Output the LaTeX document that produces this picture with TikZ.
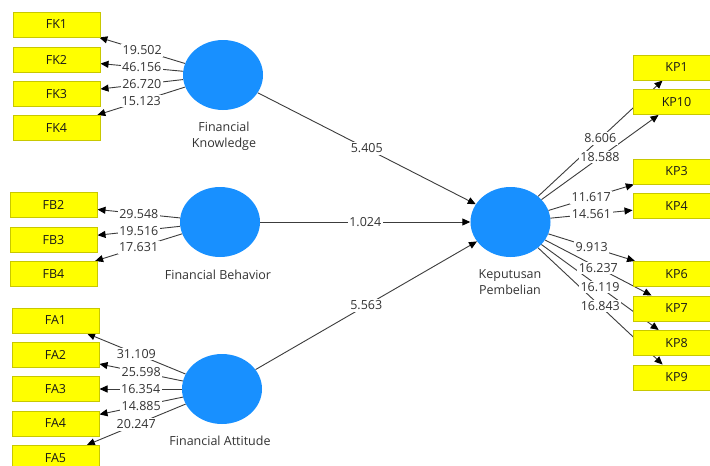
\documentclass[tikz,border=0pt]{standalone}
\usepackage{fontspec}
\setmainfont{Open Sans}
\usetikzlibrary{shapes.geometric,arrows.meta}
\pgfdeclarelayer{background}
\pgfsetlayers{background,main}
\definecolor{boxfill}{RGB}{255,255,0}
\definecolor{boxline}{RGB}{200,200,0}
\definecolor{latfill}{RGB}{24,144,255}
\definecolor{lncol}{RGB}{60,60,60}
\tikzset{
  ind/.style={draw=boxline, fill=boxfill, line width=1pt, minimum width=87pt, minimum height=25pt, inner sep=0pt, font=\fontsize{12.5}{14}\selectfont, text=black!90},
  lat/.style={ellipse, fill=latfill, minimum width=80pt, minimum height=70pt, inner sep=0pt},
  latlbl/.style={align=center, font=\fontsize{12.5}{16}\selectfont, text=black!80},
  conn/.style={draw=lncol, line width=0.9pt, -{Triangle[length=8pt,width=7pt,black]}},
  lbl/.style={fill=white, inner sep=1.5pt, font=\fontsize{12.5}{14}\selectfont, text=black!80}
}
\begin{document}
\begin{tikzpicture}[x=1pt,y=-1pt]
\useasboundingbox (0,0) rectangle (710,466);
\clip (0,0) rectangle (710,466);
% latent variables
\node[lat] (fk) at (223,75) {};
\node[lat] (fb) at (220,222) {};
\node[lat] (fa) at (222,389) {};
\node[lat] (kp) at (510.5,222) {};
\node[latlbl] (fkl) at (224,136) {Financial\\Knowledge};
\node[latlbl] (fbl) at (218,275) {Financial Behavior};
\node[latlbl] (fal) at (220,441) {Financial Attitude};
\node[latlbl] (kpl) at (510,282) {Keputusan\\Pembelian};
% indicators
\node[ind] (FK1) at (56.5,24.5) {FK1};
\node[ind] (FK2) at (56.5,59.5) {FK2};
\node[ind] (FK3) at (56.5,94) {FK3};
\node[ind] (FK4) at (56.5,128) {FK4};
\node[ind] (FB2) at (53.5,205) {FB2};
\node[ind] (FB3) at (53.5,240) {FB3};
\node[ind] (FB4) at (53.5,274) {FB4};
\node[ind] (FA1) at (55.5,320.5) {FA1};
\node[ind] (FA2) at (55.5,355) {FA2};
\node[ind] (FA3) at (55.5,389) {FA3};
\node[ind] (FA4) at (55.5,423.5) {FA4};
\node[ind] (FA5) at (55.5,458) {FA5};
\node[ind] (KP1) at (676.5,67.5) {KP1};
\node[ind] (KP10) at (676.5,102) {KP10};
\node[ind] (KP3) at (676.5,171.5) {KP3};
\node[ind] (KP4) at (676.5,206) {KP4};
\node[ind] (KP6) at (676.5,274) {KP6};
\node[ind] (KP7) at (676.5,308.5) {KP7};
\node[ind] (KP8) at (676.5,343) {KP8};
\node[ind] (KP9) at (676.5,377.5) {KP9};
\begin{pgfonlayer}{background}
\fill[white] (0,0) rectangle (710,466);
% connectors
\draw[conn] (fk) -- coordinate[pos=.5] (c1) (FK1);
\draw[conn] (fk) -- coordinate[pos=.5] (c2) (FK2);
\draw[conn] (fk) -- coordinate[pos=.5] (c3) (FK3);
\draw[conn] (fk) -- coordinate[pos=.5] (c4) (FK4);
\draw[conn] (fb) -- coordinate[pos=.5] (c5) (FB2);
\draw[conn] (fb) -- coordinate[pos=.5] (c6) (FB3);
\draw[conn] (fb) -- coordinate[pos=.5] (c7) (FB4);
\draw[conn] (fa) -- coordinate[pos=.5] (c8) (FA1);
\draw[conn] (fa) -- coordinate[pos=.5] (c9) (FA2);
\draw[conn] (fa) -- coordinate[pos=.5] (c10) (FA3);
\draw[conn] (fa) -- coordinate[pos=.5] (c11) (FA4);
\draw[conn] (fa) -- coordinate[pos=.5] (c12) (FA5);
\draw[conn] (kp) -- coordinate[pos=.5] (d1) (KP1);
\draw[conn] (kp) -- coordinate[pos=.5] (d2) (KP10);
\draw[conn] (kp) -- coordinate[pos=.5] (d3) (KP3);
\draw[conn] (kp) -- coordinate[pos=.5] (d4) (KP4);
\draw[conn] (kp) -- coordinate[pos=.5] (d5) (KP6);
\draw[conn] (kp) -- coordinate[pos=.5] (d6) (KP7);
\draw[conn] (kp) -- coordinate[pos=.5] (d7) (KP8);
\draw[conn] (kp) -- coordinate[pos=.5] (d8) (KP9);
\draw[conn] (fk) -- coordinate[pos=.5] (s1) (kp);
\draw[conn] (fb) -- coordinate[pos=.5] (s2) (kp);
\draw[conn] (fa) -- coordinate[pos=.5] (s3) (kp);
% labels
\node[lbl] at (c1) {19.502};
\node[lbl] at (c2) {46.156};
\node[lbl] at (c3) {26.720};
\node[lbl] at (c4) {15.123};
\node[lbl] at (c5) {29.548};
\node[lbl] at (c6) {19.516};
\node[lbl] at (c7) {17.631};
\node[lbl] at (c8) {31.109};
\node[lbl] at (c9) {25.598};
\node[lbl] at (c10) {16.354};
\node[lbl] at (c11) {14.885};
\node[lbl] at (c12) {20.247};
\node[lbl] at (d1) {8.606};
\node[lbl] at (d2) {18.588};
\node[lbl] at (d3) {11.617};
\node[lbl] at (d4) {14.561};
\node[lbl] at (d5) {9.913};
\node[lbl] at (d6) {16.237};
\node[lbl] at (d7) {16.119};
\node[lbl] at (d8) {16.843};
\node[lbl] at (s1) {5.405};
\node[lbl] at (s2) {1.024};
\node[lbl] at (s3) {5.563};
\end{pgfonlayer}
\end{tikzpicture}
\end{document}
